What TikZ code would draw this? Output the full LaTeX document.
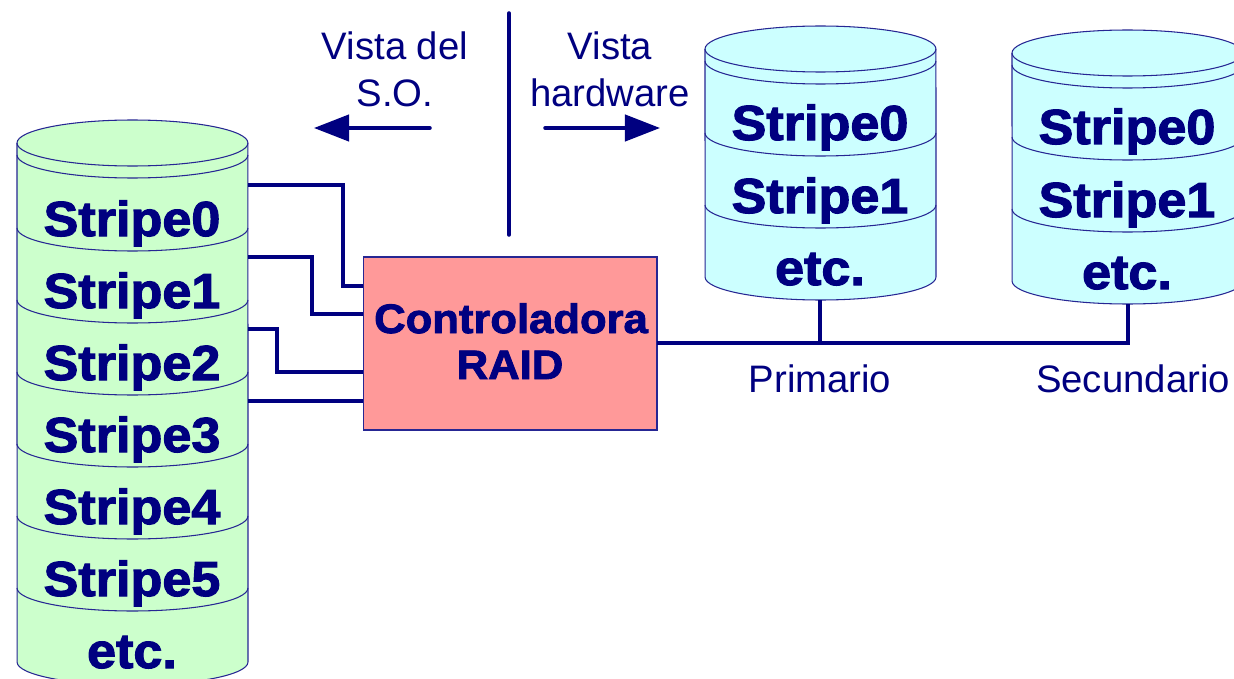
\documentclass[tikz,border=0pt]{standalone}
\usepackage{fontspec}
\setmainfont{Liberation Sans}
\newfontfamily\stripefont{Liberation Sans}[BoldFeatures={FakeBold=2.2,FakeStretch=1.06}]
\usepackage{tikz}
\usetikzlibrary{arrows.meta}
\definecolor{inkblue}{HTML}{000080}
\definecolor{diskgreen}{HTML}{CCFFCC}
\definecolor{diskcyan}{HTML}{CCFFFF}
\definecolor{raidred}{HTML}{FF9999}
\tikzset{
    disk/.style={draw=inkblue!85!white, line width=0.6pt},
    wire/.style={draw=inkblue, line width=2pt},
    viewarrow/.style={draw=inkblue, line width=2pt, line cap=round, -{Triangle[length=20pt,width=15pt]}},
    stripelabel/.style={anchor=base, text=inkblue, font=\stripefont\bfseries\fontsize{28}{28}\selectfont, inner sep=0pt},
    raidlabel/.style={stripelabel, font=\stripefont\bfseries\fontsize{23.4}{23.4}\selectfont},
    viewlabel/.style={anchor=base, text=inkblue, font=\fontsize{21.8}{21.8}\selectfont, inner sep=0pt},
}
% colour, left side, top of the side, bottom of the side, band heights
\newcommand{\drawdisk}[5]{
    \draw[disk, fill=#1] (#2,#3) arc[start angle=180,end angle=0,x radius=2.31cm,y radius=0.46cm]
        -- (#2+231,#4) arc[start angle=0,end angle=-180,x radius=2.31cm,y radius=0.46cm] -- cycle;
    \foreach \bandy in {#3,#5}
        \draw[disk] (#2,\bandy) arc[start angle=180,end angle=360,x radius=2.31cm,y radius=0.46cm];
}
\begin{document}
\begin{tikzpicture}[x=0.02cm,y=-0.02cm]
    \clip (0,0) rectangle (1234,679);
    \fill[white] (0,0) rectangle (1234,679);

    % the three disks
    \drawdisk{diskgreen}{17}{143}{662}{155,228,300,372,444,516,588}
    \drawdisk{diskcyan}{705}{49}{277}{61,133,205}
    \drawdisk{diskcyan}{1012}{53}{281}{65,137,209}

    \node[stripelabel] (left0) at (132,236) {Stripe0};
    \node[stripelabel] (left1) at (132,308) {Stripe1};
    \node[stripelabel] (left2) at (132,380) {Stripe2};
    \node[stripelabel] (left3) at (132,452) {Stripe3};
    \node[stripelabel] (left4) at (132,524) {Stripe4};
    \node[stripelabel] (left5) at (132,596) {Stripe5};
    \node[stripelabel] (leftetc) at (132,668) {etc.};
    \node[stripelabel] (prim0) at (820,140) {Stripe0};
    \node[stripelabel] (prim1) at (820,213) {Stripe1};
    \node[stripelabel] (primetc) at (820,285) {etc.};
    \node[stripelabel] (sec0) at (1127,144) {Stripe0};
    \node[stripelabel] (sec1) at (1127,217) {Stripe1};
    \node[stripelabel] (secetc) at (1127,289) {etc.};

    \node[draw=inkblue!85!white, line width=0.6pt, fill=raidred, minimum width=5.88cm, minimum height=3.46cm, inner sep=0pt] (raid) at (510,343.5) {};
    \node[raidlabel] (raidtop) at (511,333) {Controladora};
    \node[raidlabel] (raidbot) at (510,379) {RAID};

    % wires from the striped disk to the controller
    \coordinate (out0) at (248,185);
    \coordinate (out1) at (248,257);
    \coordinate (out2) at (248,329);
    \coordinate (out3) at (248,401);
    \coordinate (in0) at (363,286);
    \coordinate (in1) at (363,314);
    \coordinate (in2) at (363,372);
    \coordinate (in3) at (363,401);
    \draw[wire] (out0) -| (343,286) -- (in0);
    \draw[wire] (out1) -| (312,314) -- (in1);
    \draw[wire] (out2) -| (277,372) -- (in2);
    \draw[wire] (out3) -- (in3);

    % bus to the mirrored disks
    \coordinate (busout) at (657,343);
    \coordinate (primfoot) at (820,300);
    \coordinate (secfoot) at (1128,304);
    \coordinate (primbus) at (820,343);
    \coordinate (secbus) at (1128,343);
    \draw[wire] (busout) -- (secbus) -- (secfoot);
    \draw[wire] (primfoot) -- (primbus);

    % the divider and the two views
    \coordinate (divtop) at (509,13);
    \coordinate (divbot) at (509,235);
    \draw[wire, line cap=round] (divtop) -- (divbot);
    \coordinate (osstart) at (430,128);
    \coordinate (osend) at (314,128);
    \coordinate (hwstart) at (545,128);
    \coordinate (hwend) at (660,128);
    \draw[viewarrow] (osstart) -- (osend);
    \draw[viewarrow] (hwstart) -- (hwend);

    \node[viewlabel] (osa) at (395,60) {Vista del};
    \node[viewlabel] (osb) at (395,107) {S.O.};
    \node[viewlabel] (hwa) at (610,60) {Vista};
    \node[viewlabel] (hwb) at (610,107) {hardware};
    \node[viewlabel] (primname) at (820,392) {Primario};
    \node[viewlabel] (secname) at (1133,392) {Secundario};
\end{tikzpicture}
\end{document}
